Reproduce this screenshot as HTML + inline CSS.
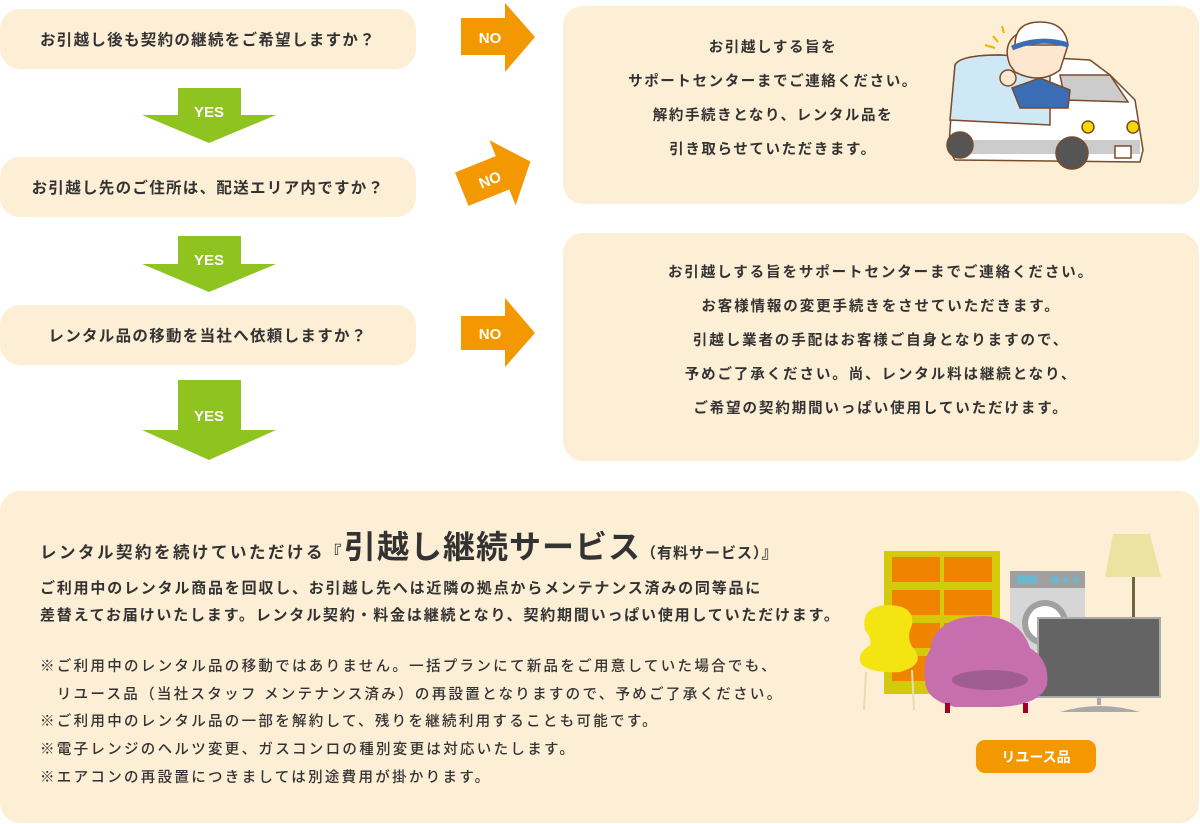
<!DOCTYPE html>
<html><head><meta charset="utf-8"><style>
*{margin:0;padding:0;box-sizing:border-box}
body{width:1200px;height:824px;background:#fff;position:relative;overflow:hidden;font-family:"Liberation Sans","Noto Sans CJK JP",sans-serif;color:#333;font-weight:bold}
.b{position:absolute;background:#fdefd6;border-radius:20px}
.q{left:0;width:416px;height:60px;font-size:15.5px;display:flex;align-items:center;justify-content:center;letter-spacing:1.3px}
.r{text-align:center;font-size:14.5px;line-height:34px;letter-spacing:1.6px}
svg{position:absolute;left:0;top:0}
.abs{position:absolute}
</style></head><body>
<div class="b q" style="top:9px">お引越し後も契約の継続をご希望しますか？</div>
<div class="b q" style="top:157px">お引越し先のご住所は、配送エリア内ですか？</div>
<div class="b q" style="top:305px">レンタル品の移動を当社へ依頼しますか？</div>
<div class="b" style="left:563px;top:6px;width:636px;height:198px"></div>
<div class="b" style="left:563px;top:233px;width:636px;height:228px"></div>
<div class="b" style="left:0;top:491px;width:1199px;height:332px"></div>

<svg width="1200" height="824">
<g fill="#8fc31f">
<polygon points="178,88 241,88 241,115 276,115 209,143 142,115 178,115"/>
<polygon points="178,236 241,236 241,264 276,264 209,292 142,264 178,264"/>
<polygon points="178,380 241,380 241,430 276,430 209,460 142,430 178,430"/>
</g>
<g fill="#f39800">
<polygon points="461,18 505,18 505,3 535,37 505,72 505,55 461,55"/>
<polygon points="461,316 505,316 505,298 535,333 505,367 505,350 461,350"/>
<g transform="rotate(-22 497 175)"><polygon points="459,157 503,157 503,140 533,175 503,210 503,193 459,193"/></g>
</g>
<g fill="#fff" font-family="Liberation Sans,sans-serif" font-weight="bold" font-size="15" text-anchor="middle">
<text x="209" y="117">YES</text><text x="209" y="265">YES</text><text x="209" y="421">YES</text>
<text x="490" y="43">NO</text><text x="490" y="339">NO</text>
<text x="490" y="185" transform="rotate(-22 490 180)">NO</text>
</g>
<!-- van -->
<g stroke="#7a4a2a" stroke-width="1.5">
<path d="M955,65 Q960,55 1000,55 L1090,60 L1110,75 L1135,100 L1143,150 L1140,162 L955,160 Q948,150 950,130 Z" fill="#fff"/>
<path d="M955,65 Q960,55 1000,55 L1050,58 L1050,125 L950,120 Z" fill="#cfe8f6"/>
<path d="M1060,75 L1110,75 L1128,102 L1065,100 Z" fill="#ccc"/>
<rect x="950" y="140" width="190" height="14" fill="#ccc" stroke="none"/>
<circle cx="960" cy="145" r="13" fill="#555"/>
<circle cx="1072" cy="153" r="16" fill="#555"/>
<circle cx="1088" cy="127" r="6" fill="#f5d800"/>
<circle cx="1133" cy="127" r="6" fill="#f5d800"/>
<rect x="1115" y="146" width="16" height="12" fill="#fff"/>
<path d="M1010,65 Q1000,40 1025,30 Q1055,22 1068,45 L1060,70 Q1040,85 1015,72 Z" fill="#fde7cf"/>
<path d="M1015,45 Q1015,22 1040,22 Q1065,22 1068,45 Z" fill="#fff"/>
<path d="M1012,48 Q1040,36 1068,45" fill="none" stroke="#3a6db5" stroke-width="5"/>
<path d="M1012,88 L1040,78 L1070,90 L1068,108 L1020,108 Z" fill="#3a6db5"/>
<circle cx="1008" cy="78" r="8" fill="#fde7cf"/>
</g>
<g stroke="#f5b300" stroke-width="2"><line x1="985" y1="45" x2="995" y2="48"/><line x1="993" y1="36" x2="998" y2="42"/><line x1="1002" y1="26" x2="1004" y2="33"/></g>
<!-- furniture -->
<rect x="884" y="551" width="116" height="143" fill="#d4c90a"/>
<g fill="#f08300">
<rect x="892" y="557" width="48" height="25"/><rect x="944" y="557" width="48" height="25"/>
<rect x="892" y="590" width="48" height="25"/><rect x="944" y="590" width="48" height="25"/>
<rect x="892" y="623" width="48" height="25"/><rect x="944" y="623" width="48" height="25"/>
<rect x="892" y="656" width="48" height="25"/></g>
<rect x="1010" y="571" width="75" height="80" fill="#d6d6d6"/>
<rect x="1010" y="571" width="75" height="17" fill="#a0a0a0"/>
<rect x="1017" y="575" width="20" height="9" fill="#6ab7d0"/>
<circle cx="1055" cy="580" r="4" fill="#6ab7d0"/><circle cx="1066" cy="580" r="3" fill="#6ab7d0"/><circle cx="1076" cy="580" r="3" fill="#6ab7d0"/>
<circle cx="1045" cy="623" r="23" fill="#a0a0a0"/><circle cx="1045" cy="623" r="17" fill="#fff"/>
<polygon points="1113,534 1150,534 1161,577 1105,577" fill="#ece3a3"/>
<rect x="1132" y="577" width="3" height="42" fill="#6d6440"/>
<rect x="1038" y="618" width="122" height="79" fill="#646464" stroke="#aaa" stroke-width="2"/>
<rect x="1097" y="697" width="4" height="8" fill="#aaa"/>
<path d="M1060,712 Q1100,700 1140,712 Z" fill="#aaa"/>
<path d="M865,630 Q860,605 890,605 Q915,606 912,625 Q905,640 915,650 Q925,665 900,672 Q875,674 862,665 Q855,655 870,645 Q872,638 865,630Z" fill="#f3e412"/>
<g stroke="#e8dcb0" stroke-width="2"><line x1="866" y1="672" x2="864" y2="710"/><line x1="912" y1="670" x2="914" y2="710"/></g>
<path d="M930,650 Q935,615 985,616 Q1020,618 1030,648 Q1050,660 1047,685 Q1040,705 1000,707 L955,707 Q925,700 925,680 Q923,660 930,650Z" fill="#c76fae"/>
<ellipse cx="990" cy="680" rx="38" ry="10" fill="#a15d90"/>
<g fill="#a0002a"><rect x="945" y="703" width="5" height="10"/><rect x="1023" y="703" width="5" height="10"/></g>
<rect x="976" y="740" width="120" height="33" rx="9" fill="#f39800"/>
<text x="1036" y="762" fill="#fff" font-size="14" font-weight="bold" text-anchor="middle" font-family="Liberation Sans,Noto Sans CJK JP,sans-serif">リユース品</text>
</svg>

<div class="abs r" style="left:583px;top:31px;width:380px">お引越しする旨を<br>サポートセンターまでご連絡ください。<br>解約手続きとなり、レンタル品を<br>引き取らせていただきます。</div>
<div class="abs r" style="left:563px;top:256px;width:636px;letter-spacing:1.9px">お引越しする旨をサポートセンターまでご連絡ください。<br>お客様情報の変更手続きをさせていただきます。<br>引越し業者の手配はお客様ご自身となりますので、<br>予めご了承ください。尚、レンタル料は継続となり、<br>ご希望の契約期間いっぱい使用していただけます。</div>

<div class="abs" style="left:40px;top:522px;font-size:16.5px;letter-spacing:2.5px;white-space:nowrap">レンタル契約を続けていただける『<span style="font-size:32px;letter-spacing:1px">引越し継続サービス</span><span style="font-size:15px;letter-spacing:1px">（有料サービス）</span>』</div>
<div class="abs" style="left:40px;top:575px;font-size:15px;line-height:27px;letter-spacing:1.8px;white-space:nowrap">ご利用中のレンタル商品を回収し、お引越し先へは近隣の拠点からメンテナンス済みの同等品に<br>差替えてお届けいたします。レンタル契約・料金は継続となり、契約期間いっぱい使用していただけます。</div>
<div class="abs" style="left:40px;top:654px;font-size:14.5px;line-height:27.7px;letter-spacing:2.3px;font-weight:500;color:#333;white-space:nowrap">※ご利用中のレンタル品の移動ではありません。一括プランにて新品をご用意していた場合でも、<br>　リユース品（当社スタッフ メンテナンス済み）の再設置となりますので、予めご了承ください。<br>※ご利用中のレンタル品の一部を解約して、残りを継続利用することも可能です。<br>※電子レンジのヘルツ変更、ガスコンロの種別変更は対応いたします。<br>※エアコンの再設置につきましては別途費用が掛かります。</div>
</body></html>
